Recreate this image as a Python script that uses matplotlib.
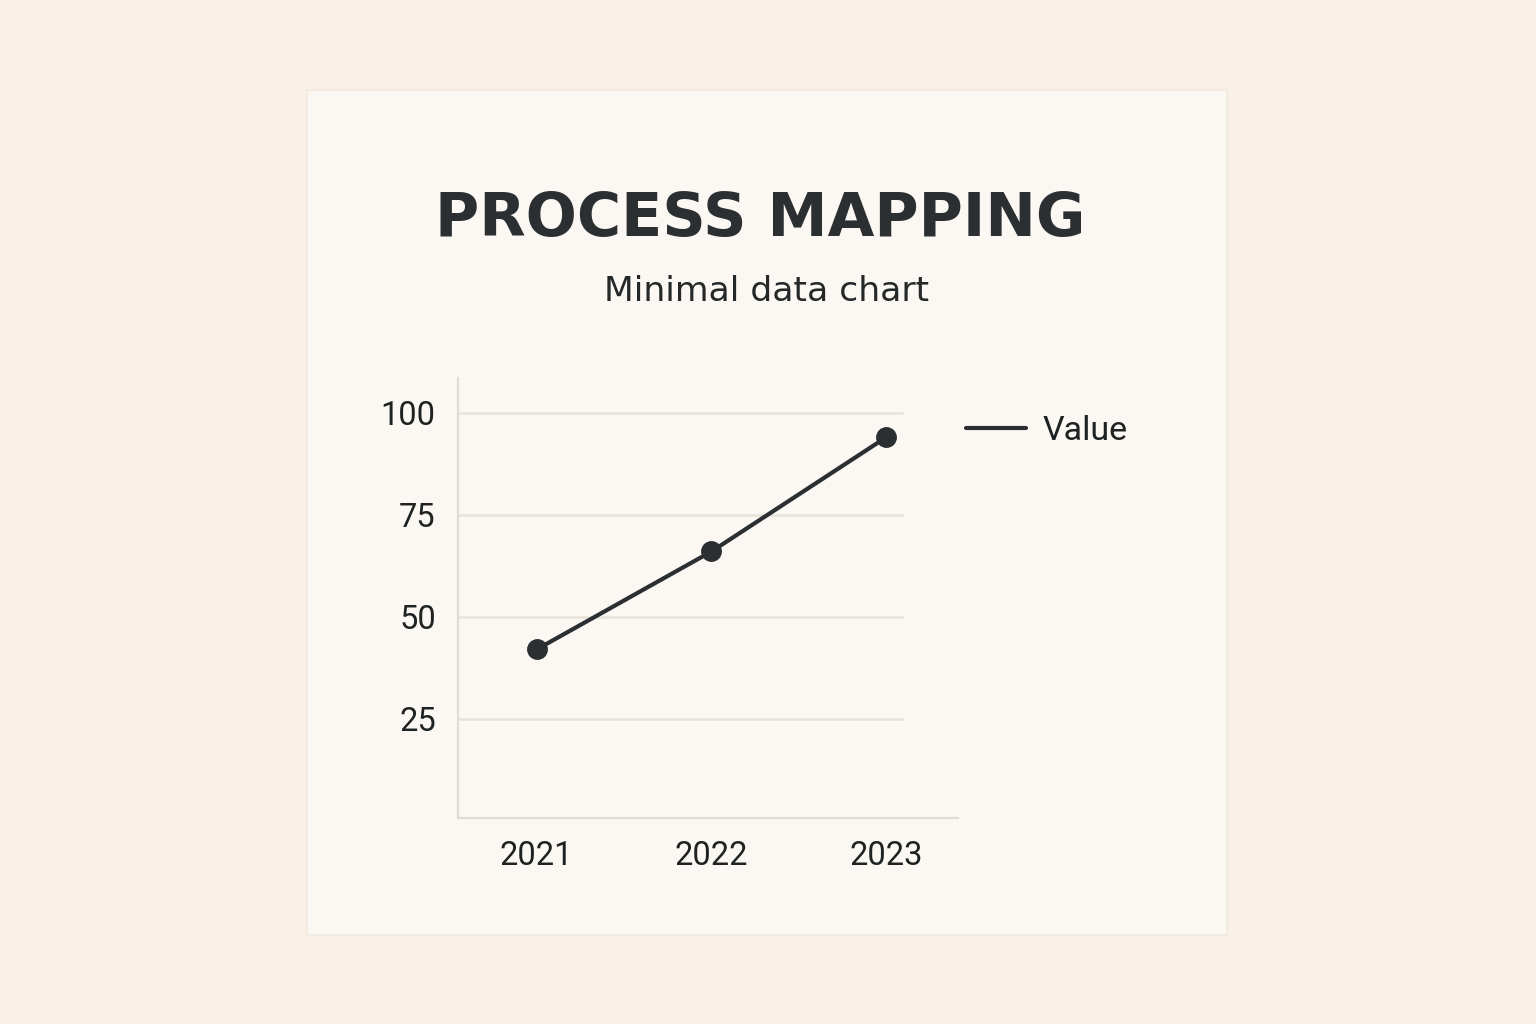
import matplotlib
matplotlib.use("Agg")
import matplotlib.pyplot as plt
from matplotlib.patches import Rectangle

years = [2021, 2022, 2023]
values = [42, 66, 94]
ytick_values = [25, 50, 75, 100]
xtick_labels = ["2021", "2022", "2023"]
title_text = "PROCESS MAPPING"
subtitle_text = "Minimal data chart"
series_label = "Value"

BG = "#f9f1e8"
CARD = "#fbf8f3"
INK = "#2b2f31"
GRID = "#e9e4d9"
SPINE = "#e2ddd3"

plt.rcParams['font.family'] = ['Roboto', 'DejaVu Sans']

fig = plt.figure(figsize=(15.36, 10.24), dpi=100, facecolor=BG)

# card
card = Rectangle((307 / 1536, 1 - 935 / 1024), (1227 - 307) / 1536, (935 - 90) / 1024,
                 transform=fig.transFigure, facecolor=CARD, edgecolor="#efe9df",
                 linewidth=1.2, zorder=-5)
fig.patches.append(card)

fig.text(0.495, 1 - 236 / 1024, title_text, ha="center", va="baseline",
         fontsize=43.5, fontweight="bold", color=INK,
         family=["DejaVu Sans"])
fig.text(0.499, 1 - 301 / 1024, subtitle_text, ha="center", va="baseline",
         fontsize=24.8, color="#252829", family=["DejaVu Sans"])

ax = fig.add_axes([458 / 1536, 1 - 818 / 1024, 500 / 1536, 440 / 1024])
ax.set_facecolor("none")
ax.set_zorder(2)
ax.set_xlim(2020.55, 2023.41)
ax.set_ylim(0.7, 108.5)

for v in ytick_values:
    ax.axhline(v, xmin=0, xmax=0.888, color=GRID, linewidth=1.8, zorder=1)

ax.plot(years, values, color=INK, linewidth=3.0, label=series_label, zorder=3,
        solid_capstyle="round")
ax.plot(years, values, linestyle="none", marker="o", markersize=14,
        color=INK, zorder=4)

ax.set_yticks(ytick_values)
ax.set_yticklabels([str(v) for v in ytick_values])
ax.set_xticks(years)
ax.set_xticklabels(xtick_labels)
ax.tick_params(axis="both", length=0, labelsize=23.5, colors="#1f2223")
ax.tick_params(axis="y", pad=16)
ax.tick_params(axis="x", pad=16)

for side in ["top", "right"]:
    ax.spines[side].set_visible(False)
for side in ["left", "bottom"]:
    ax.spines[side].set_color(SPINE)
    ax.spines[side].set_linewidth(1.6)

handles, labels = ax.get_legend_handles_labels()
fig.legend(handles, labels, loc="center left",
           bbox_to_anchor=(966 / 1536, 1 - 431 / 1024),
           bbox_transform=fig.transFigure, frameon=False,
           fontsize=24.5, handlelength=1.75, handletextpad=0.5,
           borderpad=0, borderaxespad=0, labelcolor="#1f2223")

fig.savefig("out.png", dpi=100, facecolor=BG)
